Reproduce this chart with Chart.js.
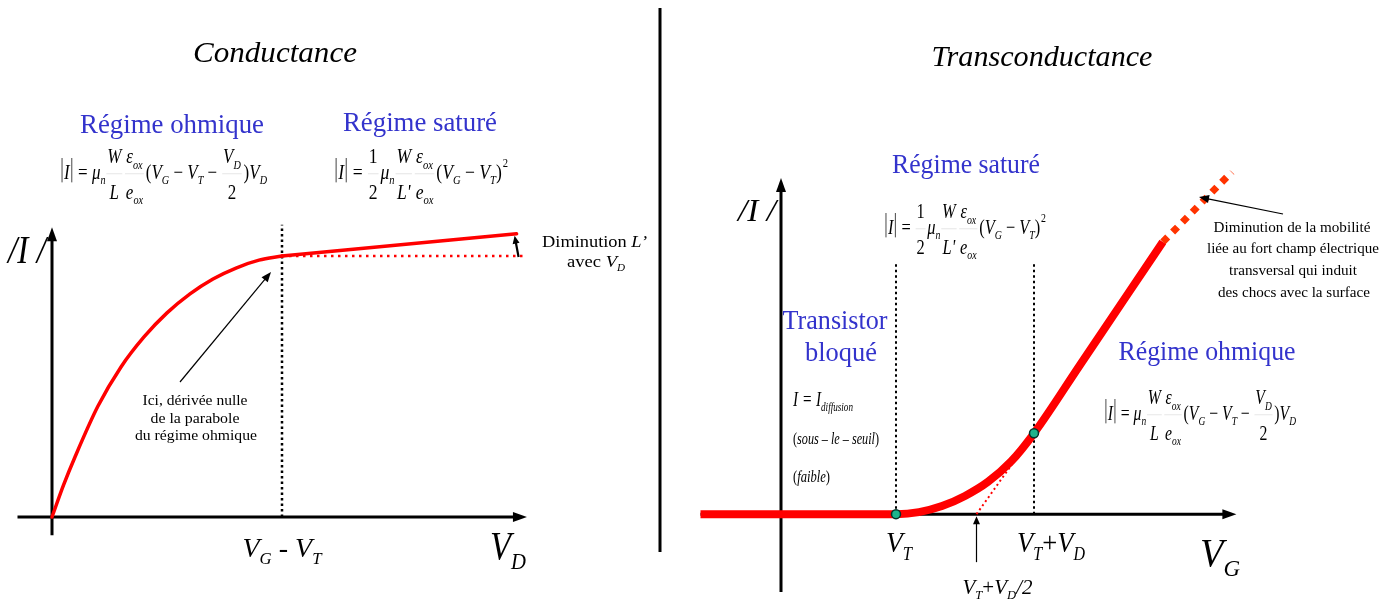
<!DOCTYPE html>
<html>
<head>
<meta charset="utf-8">
<script src="https://cdn.jsdelivr.net/npm/chart.js@4/dist/chart.umd.min.js"></script>
<style>
  body { margin: 0; background: #fff; }
  canvas { position: absolute; left: 0; top: 0; }
</style>
</head>
<body>
<canvas id="cond" width="1395" height="601"></canvas>
<canvas id="trans" width="1395" height="601"></canvas>
<script>
// Conductance: |I| versus V_D (fixed V_G)
const vdOhm = [0, 0.5, 1, 2, 3, 4, 5, 6, 7, 8, 9, 10];
const iOhm = [0, 1.22, 2.3, 4.25, 5.75, 6.9, 7.82, 8.55, 9.12, 9.54, 9.84, 10];
const vdSat = [10, 20.2];
const iSat = [10, 10.85];
const vdFlat = [10, 20.6];
const iFlat = [10, 10];
const vdKnee = 10; // V_G - V_T

// Transconductance: |I| versus V_G (fixed V_D)
const vT = 5, vTD = 11, vTHalf = 8.5;
const vgCurve = [-3.5, 5, 6, 7, 8, 9, 10, 11, 13, 15, 16.6];
const iCurve = [0, 0, 0.1, 0.4, 0.9, 1.6, 2.6, 4.0, 7.38, 10.76, 13.46];
const vgMob = [16.6, 19.6];
const iMob = [13.46, 16.93];
const vgTan = [8.5, 11];
const iTan = [0, 4];
const vgDots = [5, 11];
const iDots = [0, 4];

const RED = '#ff0000';
const BLUE = '#3333cc';
const SERIF = '"Liberation Serif", "Times New Roman", serif';

function pts(xs, ys) {
  return xs.map((x, i) => ({ x: x, y: ys[i] }));
}

function arrow(ctx, x1, y1, x2, y2, len, half, lw) {
  const a = Math.atan2(y2 - y1, x2 - x1);
  ctx.save();
  ctx.strokeStyle = '#000';
  ctx.fillStyle = '#000';
  ctx.lineWidth = lw;
  ctx.beginPath();
  ctx.moveTo(x1, y1);
  ctx.lineTo(x2 - Math.cos(a) * len * 0.8, y2 - Math.sin(a) * len * 0.8);
  ctx.stroke();
  ctx.beginPath();
  ctx.moveTo(x2, y2);
  ctx.lineTo(x2 - Math.cos(a) * len - Math.sin(a) * half, y2 - Math.sin(a) * len + Math.cos(a) * half);
  ctx.lineTo(x2 - Math.cos(a) * len + Math.sin(a) * half, y2 - Math.sin(a) * len - Math.cos(a) * half);
  ctx.closePath();
  ctx.fill();
  ctx.restore();
}

// text squeezed to a given width, centred on x
function fitText(ctx, text, x, y, font, width, color) {
  ctx.save();
  ctx.font = font;
  ctx.fillStyle = color || '#000';
  const k = width ? width / ctx.measureText(text).width : 1;
  ctx.translate(x, y);
  ctx.scale(k, 1);
  ctx.textAlign = 'center';
  ctx.textBaseline = 'alphabetic';
  ctx.fillText(text, 0, 0);
  ctx.restore();
}

// small formula layout: text, subscripts, superscripts, fractions, |bars|
function piece(ctx, it, fs, draw, x, y) {
  const k = it[0];
  if (k === 'i' || k === 'r') {
    ctx.font = (k === 'i' ? 'italic ' : '') + fs + 'px ' + SERIF;
    if (draw) ctx.fillText(it[1], x, y);
    return ctx.measureText(it[1]).width;
  }
  if (k === 's') {
    let w = piece(ctx, ['i', it[1]], fs, draw, x, y);
    w += piece(ctx, ['i', it[2]], fs * 0.6, draw, x + w, y + fs * 0.25);
    return w;
  }
  if (k === 'sup') {
    return piece(ctx, ['r', it[1]], fs * 0.6, draw, x + 1, y - fs * 0.55) + 1;
  }
  if (k === 'bar') {
    if (draw) {
      ctx.save();
      ctx.lineWidth = 1;
      ctx.strokeStyle = '#333';
      ctx.beginPath();
      ctx.moveTo(x + fs * 0.12, y - fs * 1.0);
      ctx.lineTo(x + fs * 0.12, y + fs * 0.16);
      ctx.stroke();
      ctx.restore();
    }
    return fs * 0.24;
  }
  if (k === 'f') {
    const wn = layout(ctx, it[1], fs, false, 0, 0);
    const wd = layout(ctx, it[2], fs, false, 0, 0);
    const w = Math.max(wn, wd) + fs * 0.2;
    if (draw) {
      layout(ctx, it[1], fs, true, x + (w - wn) / 2, y - fs * 0.75);
      layout(ctx, it[2], fs, true, x + (w - wd) / 2, y + fs * 0.95);
      ctx.save();
      ctx.lineWidth = 0.6;
      ctx.strokeStyle = '#cfcfcf';
      ctx.beginPath();
      ctx.moveTo(x + fs * 0.05, y - fs * 0.25);
      ctx.lineTo(x + w - fs * 0.05, y - fs * 0.25);
      ctx.stroke();
      ctx.restore();
    }
    return w + fs * 0.06;
  }
  return 0;
}

function layout(ctx, items, fs, draw, x, y) {
  let cx = x;
  for (const it of items) cx += piece(ctx, it, fs, draw, cx, y);
  return cx - x;
}

function drawMath(ctx, items, x, y, fs, width, center) {
  ctx.save();
  ctx.fillStyle = '#000';
  ctx.textAlign = 'left';
  ctx.textBaseline = 'alphabetic';
  const w = layout(ctx, items, fs, false, 0, 0);
  const k = width ? width / w : 1;
  ctx.translate(center ? x - (w * k) / 2 : x, y);
  ctx.scale(k, 1);
  layout(ctx, items, fs, true, 0, 0);
  ctx.restore();
}

const ohmFormula = [['bar'], ['i', 'I'], ['bar'], ['r', ' = '], ['s', 'μ', 'n'],
  ['f', [['i', 'W']], [['i', 'L']]], ['f', [['s', 'ε', 'ox']], [['s', 'e', 'ox']]],
  ['r', '('], ['s', 'V', 'G'], ['r', ' − '], ['s', 'V', 'T'], ['r', ' − '],
  ['f', [['s', 'V', 'D']], [['r', '2']]], ['r', ')'], ['s', 'V', 'D']];
const satFormula = [['bar'], ['i', 'I'], ['bar'], ['r', ' = '], ['f', [['r', '1']], [['r', '2']]],
  ['s', 'μ', 'n'], ['f', [['i', 'W']], [['i', 'L\'']]], ['f', [['s', 'ε', 'ox']], [['s', 'e', 'ox']]],
  ['r', '('], ['s', 'V', 'G'], ['r', ' − '], ['s', 'V', 'T'], ['r', ')'], ['sup', '2']];

const condDecor = {
  id: 'condDecor',
  beforeDatasetsDraw(chart) {
    const ctx = chart.ctx, sx = chart.scales.x, sy = chart.scales.y;
    const x0 = sx.getPixelForValue(0), y0 = sy.getPixelForValue(0);
    arrow(ctx, sx.getPixelForValue(-1.5), y0, sx.getPixelForValue(20.65), y0, 14, 5, 3);
    arrow(ctx, x0, sy.getPixelForValue(-0.7), x0, sy.getPixelForValue(11.1), 14, 5, 3);
  },
  afterDraw(chart) {
    const ctx = chart.ctx, sx = chart.scales.x, sy = chart.scales.y;
    // separator between the two panels
    ctx.save();
    ctx.lineWidth = 3;
    ctx.strokeStyle = '#000';
    ctx.beginPath();
    ctx.moveTo(660, 8);
    ctx.lineTo(660, 552);
    ctx.stroke();
    ctx.restore();

    fitText(ctx, 'Conductance', 275, 62, 'italic 30px ' + SERIF, 164);
    fitText(ctx, 'Régime ohmique', 172, 133, '28px ' + SERIF, 184, BLUE);
    fitText(ctx, 'Régime saturé', 420, 131, '28px ' + SERIF, 154, BLUE);
    drawMath(ctx, ohmFormula, 60, 179, 21, 207);
    drawMath(ctx, satFormula, 334, 179, 21, 174);

    fitText(ctx, '/I /', 27, 263, 'italic 40px ' + SERIF, 38);
    drawMath(ctx, [['s', 'V', 'G'], ['r', ' - '], ['s', 'V', 'T']], sx.getPixelForValue(vdKnee), 557, 28, 79, true);
    drawMath(ctx, [['s', 'V', 'D']], 508, 559, 40, 36, true);

    // derivative annotation
    arrow(ctx, 180, 382, 271, 272, 10, 4, 1.2);
    fitText(ctx, 'Ici, dérivée nulle', 195, 405, '15px ' + SERIF, 105);
    fitText(ctx, 'de la parabole', 195, 423, '15px ' + SERIF, 89);
    fitText(ctx, 'du régime ohmique', 196, 440, '15px ' + SERIF, 122);

    // channel length modulation
    const xr = sx.getPixelForValue(20.2);
    arrow(ctx, xr + 2, sy.getPixelForValue(10) + 1, xr - 2, sy.getPixelForValue(10.78), 8, 3.5, 2.2);
    drawMath(ctx, [['r', 'Diminution '], ['i', 'L’']], 542, 247, 16, 105);
    drawMath(ctx, [['r', 'avec '], ['s', 'V', 'D']], 567, 267, 16, 58);
  }
};

const transDecor = {
  id: 'transDecor',
  beforeDatasetsDraw(chart) {
    const ctx = chart.ctx, sx = chart.scales.x, sy = chart.scales.y;
    const x0 = sx.getPixelForValue(0), y0 = sy.getPixelForValue(0);
    arrow(ctx, sx.getPixelForValue(-3.5), y0, sx.getPixelForValue(19.8), y0, 14, 5, 3);
    arrow(ctx, x0, sy.getPixelForValue(-3.85), x0, sy.getPixelForValue(16.63), 14, 5, 3);
  },
  afterDraw(chart) {
    const ctx = chart.ctx, sx = chart.scales.x, sy = chart.scales.y;
    const y0 = sy.getPixelForValue(0);
    fitText(ctx, 'Transconductance', 1042, 66, 'italic 30px ' + SERIF, 221);
    fitText(ctx, '/I /', 757, 221, 'italic 32px ' + SERIF, 38);

    fitText(ctx, 'Régime saturé', 966, 173, '28px ' + SERIF, 148, BLUE);
    drawMath(ctx, satFormula, 884, 234, 21, 162);

    fitText(ctx, 'Transistor', 835, 329, '28px ' + SERIF, 105, BLUE);
    fitText(ctx, 'bloqué', 841, 361, '28px ' + SERIF, 72, BLUE);
    drawMath(ctx, [['i', 'I = '], ['s', 'I', 'diffusion']], 793, 406, 21, 60);
    drawMath(ctx, [['r', '('], ['i', 'sous – le – seuil'], ['r', ')']], 793, 444, 17, 86);
    drawMath(ctx, [['r', '('], ['i', 'faible'], ['r', ')']], 793, 482, 17, 37);

    fitText(ctx, 'Régime ohmique', 1207, 360, '28px ' + SERIF, 177, BLUE);
    drawMath(ctx, ohmFormula, 1104, 420, 21, 192);

    // mobility degradation
    arrow(ctx, 1283, 214, 1199, 197, 10, 4, 1.2);
    fitText(ctx, 'Diminution de la mobilité', 1292, 232, '14px ' + SERIF, 157);
    fitText(ctx, 'liée au fort champ électrique', 1293, 253, '14px ' + SERIF, 172);
    fitText(ctx, 'transversal qui induit', 1293, 275, '14px ' + SERIF, 128);
    fitText(ctx, 'des chocs avec la surface', 1294, 297, '14px ' + SERIF, 152);

    // abscissa labels
    drawMath(ctx, [['s', 'V', 'T']], sx.getPixelForValue(vT) + 3, 552, 30, 26, true);
    drawMath(ctx, [['s', 'V', 'T'], ['r', '+'], ['s', 'V', 'D']], sx.getPixelForValue(vTD) + 17, 552, 30, 68, true);
    drawMath(ctx, [['s', 'V', 'G']], 1220, 566, 40, 40, true);
    const xh = sx.getPixelForValue(vTHalf);
    arrow(ctx, xh, y0 + 48, xh, y0 + 2, 8, 3.5, 1.2);
    drawMath(ctx, [['s', 'V', 'T'], ['r', '+'], ['s', 'V', 'D'], ['i', '/2']], xh + 21, 594, 20, 70, true);
  }
};

const common = {
  responsive: false,
  animation: false,
  devicePixelRatio: 1,
  events: [],
  elements: { point: { radius: 0 } },
  plugins: { legend: { display: false }, tooltip: { enabled: false } }
};

new Chart(document.getElementById('cond'), {
  type: 'scatter',
  data: {
    datasets: [
      { data: pts(vdOhm, iOhm), showLine: true, borderColor: RED, borderWidth: 3.5, cubicInterpolationMode: 'monotone', borderCapStyle: 'round', order: 1 },
      { data: pts(vdSat, iSat), showLine: true, borderColor: RED, borderWidth: 3.5, borderCapStyle: 'round', order: 1 },
      { data: pts(vdFlat, iFlat), showLine: true, borderColor: RED, borderWidth: 2.5, borderDash: [2.5, 4.5], order: 2 },
      { data: pts([vdKnee, vdKnee], [0, 11.2]), showLine: true, borderColor: '#000', borderWidth: 2.5, borderDash: [2.5, 3], order: 3 }
    ]
  },
  options: Object.assign({}, common, {
    layout: { padding: { left: 17.5, right: 860, top: 203.8, bottom: 57.9 } },
    scales: {
      x: { type: 'linear', min: -1.5, max: 21, display: false },
      y: { type: 'linear', min: -1, max: 12, display: false }
    }
  }),
  plugins: [condDecor]
});

new Chart(document.getElementById('trans'), {
  type: 'scatter',
  data: {
    datasets: [
      { data: pts(vgDots, iDots), pointRadius: 4.5, pointBackgroundColor: '#1fb48c', pointBorderColor: '#06332a', pointBorderWidth: 1.5, order: 0 },
      { data: pts(vgCurve, iCurve), showLine: true, borderColor: RED, borderWidth: 8, cubicInterpolationMode: 'monotone', order: 1 },
      { data: pts(vgMob, iMob), showLine: true, borderColor: '#ff3300', borderWidth: 7, borderDash: [7, 7], order: 1 },
      { data: pts(vgTan, iTan), showLine: true, borderColor: RED, borderWidth: 2, borderDash: [2, 3], order: 3 },
      { data: pts([vT, vT], [0, 12.5]), showLine: true, borderColor: '#000', borderWidth: 2, borderDash: [2.5, 3], order: 2 },
      { data: pts([vTD, vTD], [0, 12.5]), showLine: true, borderColor: '#000', borderWidth: 2, borderDash: [2.5, 3], order: 2 }
    ]
  },
  options: Object.assign({}, common, {
    layout: { padding: { left: 689, right: 131, top: 170.5, bottom: 0 } },
    scales: {
      x: { type: 'linear', min: -4, max: 21, display: false },
      y: { type: 'linear', min: -4, max: 17, display: false }
    }
  }),
  plugins: [transDecor]
});
</script>
</body>
</html>
